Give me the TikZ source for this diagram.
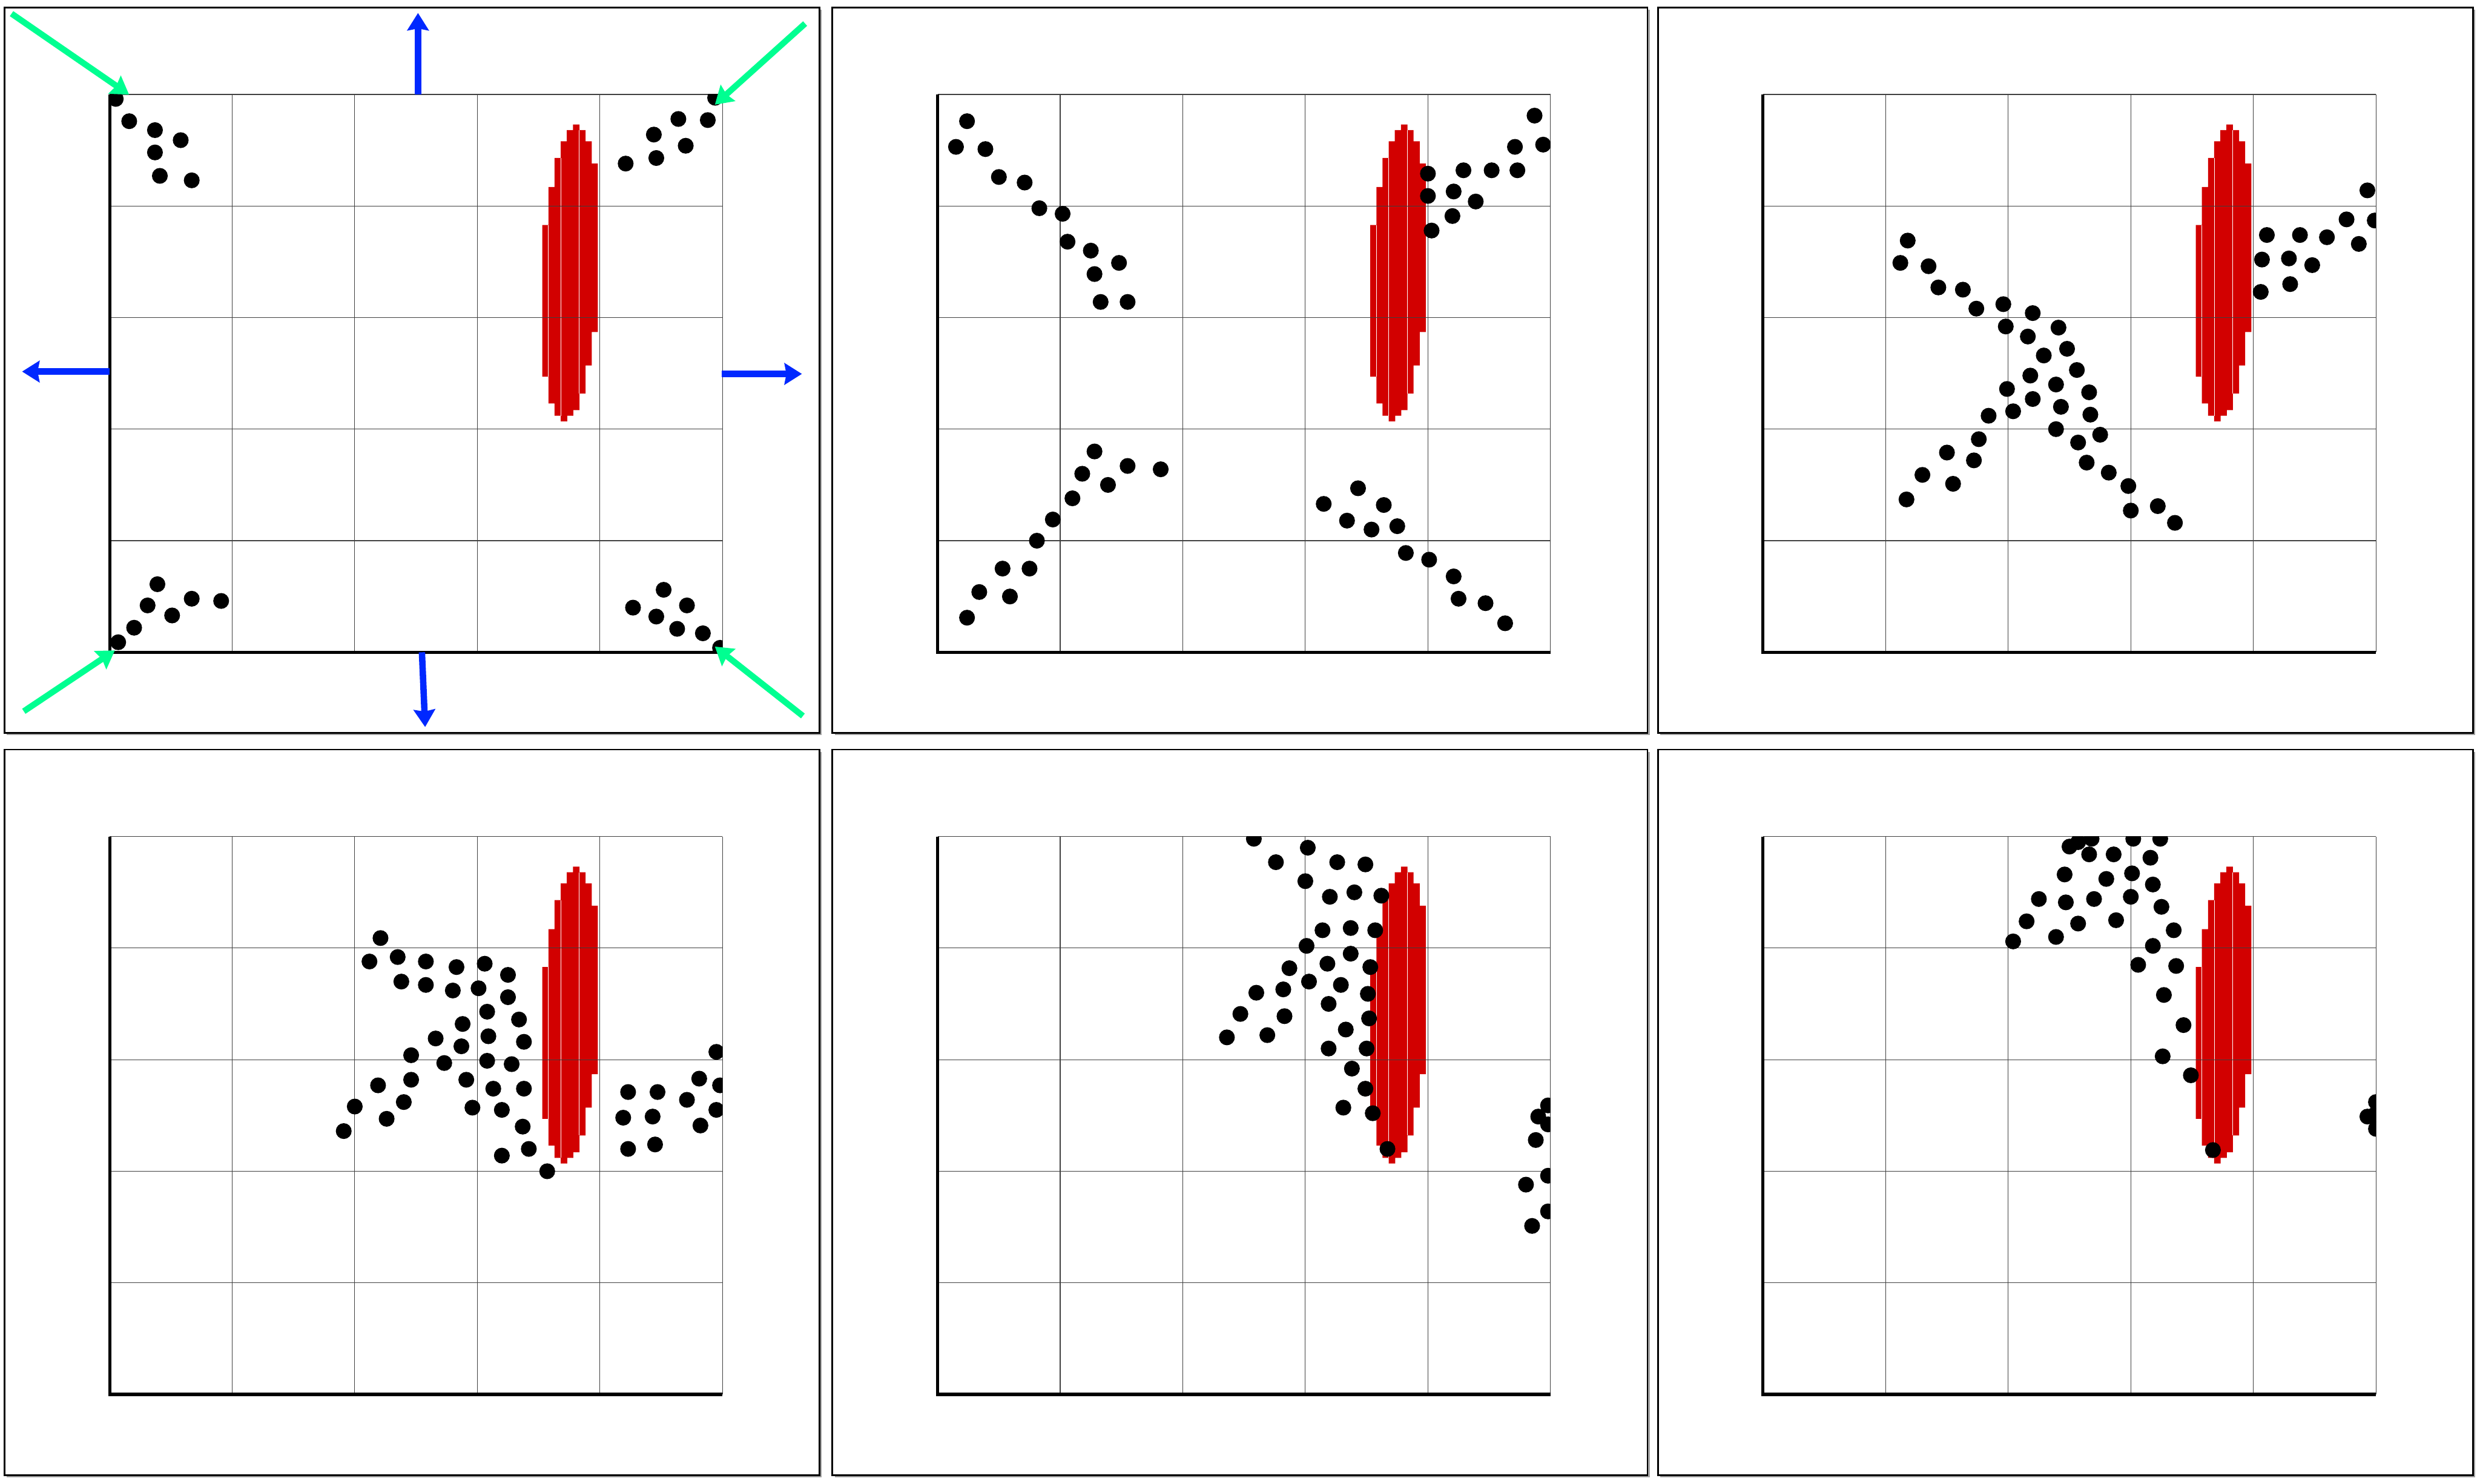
\documentclass[tikz,border=0pt]{standalone}
\usetikzlibrary{arrows.meta,shadows}

\definecolor{blobred}{RGB}{210,0,0}
\definecolor{pushblue}{RGB}{0,40,255}
\definecolor{pullgreen}{RGB}{0,255,145}

\tikzset{
  panelframe/.style={draw=black, line width=0.3pt, fill=white,
    drop shadow={shadow xshift=0.14mm, shadow yshift=-0.14mm, fill=black!60, opacity=0.6}},
  gridline/.style={draw=black!75, line width=0.12pt},
  axisline/.style={draw=black, line width=0.55pt},
  particle/.style={fill=black},
  pusharrow/.style={draw=pushblue, line width=1.15pt,
    -{Stealth[length=1.1mm, width=1.35mm, inset=0.12mm]}},
  pullarrow/.style={draw=pullgreen, line width=1.1pt,
    -{Stealth[length=1.1mm, width=1.35mm, inset=0.12mm]}}
}

% frame, red blob, grid and axes of one panel
\newcommand{\panelbase}{%
  \draw[panelframe] (-0.858,-0.723) rectangle (5.791,5.78);
  \fill[blobred] \foreach \x/\lo/\hi in {3.53/2.47/3.83, 3.58/2.23/4.17,
      3.63/2.12/4.43, 3.68/2.07/4.58, 3.73/2.12/4.68, 3.78/2.17/4.73,
      3.83/2.32/4.68, 3.88/2.57/4.58, 3.93/2.87/4.38}
    {(\x,\lo) rectangle (\x+0.053,\hi)};
  \draw[white, line width=0.09pt] (3.58,2.47) -- (3.58,3.83)
    (3.68,2.12) -- (3.68,4.43) (3.83,2.32) -- (3.83,4.68);
  \foreach \k in {1,...,5} {
    \draw[gridline] (\k,0) -- (\k,5);
    \draw[gridline] (0,\k) -- (5,\k);
  }
  \draw[axisline] (0,5) -- (0,0) -- (5,0);
}

\begin{document}
\begin{tikzpicture}
\useasboundingbox (0,0) rectangle (15.68,-9.38);

% panel 1
\begin{scope}[shift={(0.693,-4.124)}, x=0.775cm, y=0.7054cm]
  \panelbase
  \begin{scope}
    \clip (0,0) rectangle (5,5);
    \foreach \x/\y in {0.05/4.96, 0.16/4.76, 0.37/4.68, 0.58/4.59, 0.37/4.48,
        0.41/4.27, 0.67/4.23,
        4.21/4.38, 4.44/4.64, 4.64/4.78, 4.88/4.77, 4.70/4.54, 4.46/4.43, 4.94/4.97,
        0.07/0.09, 0.20/0.22, 0.31/0.42, 0.39/0.61, 0.51/0.33, 0.67/0.48, 0.91/0.46,
        4.27/0.40, 4.52/0.56, 4.71/0.42, 4.46/0.32, 4.63/0.21, 4.84/0.17, 4.98/0.04}
      \fill[particle] (\x,\y) circle[radius=0.5mm];
  \end{scope}
  \coordinate (top) at (2.516,5.0);
  \coordinate (topout) at (2.516,5.73);
  \coordinate (bot) at (2.548,0.0);
  \coordinate (botout) at (2.574,-0.67);
  \coordinate (left) at (0.0,2.516);
  \coordinate (leftout) at (-0.714,2.516);
  \coordinate (right) at (4.994,2.495);
  \coordinate (rightout) at (5.648,2.495);
  \draw[pusharrow] (top) -- (topout);
  \draw[pusharrow] (bot) -- (botout);
  \draw[pusharrow] (left) -- (leftout);
  \draw[pusharrow] (right) -- (rightout);
  \coordinate (tl) at (0.159,4.998);
  \coordinate (tlout) at (-0.80,5.724);
  \coordinate (tr) at (4.938,4.908);
  \coordinate (trout) at (5.674,5.635);
  \coordinate (bl) at (0.043,0.017);
  \coordinate (blout) at (-0.70,-0.529);
  \coordinate (br) at (4.938,0.051);
  \coordinate (brout) at (5.656,-0.571);
  \draw[pullarrow] (tlout) -- (tl);
  \draw[pullarrow] (trout) -- (tr);
  \draw[pullarrow] (blout) -- (bl);
  \draw[pullarrow] (brout) -- (br);
\end{scope}

% panel 2
\begin{scope}[shift={(5.928,-4.124)}, x=0.775cm, y=0.7054cm]
  \panelbase
  \begin{scope}
    \clip (0,0) rectangle (5,5);
    \foreach \x/\y in {0.24/4.76, 0.15/4.53, 0.39/4.51, 0.50/4.26, 0.71/4.21,
        0.83/3.98, 1.02/3.93, 1.06/3.68, 1.25/3.60, 1.48/3.49, 1.28/3.39,
        1.33/3.14, 1.55/3.14,
        4.00/4.29, 4.00/4.09, 4.03/3.78, 4.20/3.91, 4.21/4.13, 4.29/4.32,
        4.39/4.04, 4.52/4.32, 4.73/4.32, 4.71/4.53, 4.87/4.81, 4.94/4.55,
        0.24/0.31, 0.34/0.54, 0.53/0.75, 0.59/0.50, 0.75/0.75, 0.81/1.00,
        0.94/1.19, 1.10/1.38, 1.18/1.60, 1.28/1.80, 1.39/1.50, 1.55/1.67, 1.82/1.64,
        3.15/1.33, 3.34/1.18, 3.43/1.47, 3.54/1.10, 3.64/1.32, 3.75/1.13,
        3.82/0.89, 4.01/0.83, 4.21/0.68, 4.25/0.48, 4.47/0.44, 4.63/0.26}
      \fill[particle] (\x,\y) circle[radius=0.5mm];
  \end{scope}
\end{scope}

% panel 3
\begin{scope}[shift={(11.147,-4.124)}, x=0.775cm, y=0.7054cm]
  \panelbase
  \begin{scope}
    \clip (0,0) rectangle (5,5);
    \foreach \x/\y in {1.18/3.69, 1.12/3.49, 1.35/3.46, 1.43/3.27, 1.63/3.25,
        1.74/3.08, 1.96/3.12, 2.20/3.04, 1.98/2.92, 2.16/2.83, 2.41/2.91,
        2.29/2.66, 2.48/2.72, 2.56/2.53, 2.66/2.33, 2.67/2.13, 2.75/1.95,
        2.57/1.88, 2.64/1.70, 2.82/1.61, 2.98/1.49, 3.00/1.27, 3.22/1.31, 3.36/1.16,
        1.17/1.37, 1.30/1.59, 1.50/1.79, 1.55/1.51, 1.72/1.72, 1.76/1.91,
        1.84/2.12, 2.04/2.16, 1.99/2.36, 2.20/2.27, 2.18/2.48, 2.39/2.40,
        2.43/2.20, 2.39/2.00,
        4.06/3.23, 4.30/3.30, 4.07/3.52, 4.29/3.53, 4.48/3.47, 4.11/3.74,
        4.38/3.74, 4.60/3.72, 4.76/3.88, 4.86/3.66, 4.93/4.14, 4.99/3.87}
      \fill[particle] (\x,\y) circle[radius=0.5mm];
  \end{scope}
\end{scope}

% panel 4
\begin{scope}[shift={(0.693,-8.816)}, x=0.775cm, y=0.7054cm]
  \panelbase
  \begin{scope}
    \clip (0,0) rectangle (5,5);
    \foreach \x/\y in {2.21/4.09, 2.12/3.88, 2.35/3.92, 2.58/3.88, 2.83/3.83,
        3.06/3.86, 3.25/3.76, 2.38/3.70, 2.58/3.67, 2.80/3.62, 3.01/3.64,
        3.25/3.56, 3.08/3.43, 3.34/3.36, 2.88/3.32, 2.66/3.19, 2.87/3.12,
        3.09/3.21, 3.38/3.16, 2.46/3.04, 2.73/2.97, 3.08/2.99, 3.28/2.96,
        2.19/2.77, 2.46/2.82, 2.91/2.82, 3.13/2.74, 3.38/2.74, 2.00/2.58,
        2.40/2.62, 2.26/2.47, 2.96/2.57, 3.20/2.55, 1.91/2.36, 3.37/2.40,
        3.20/2.14, 3.42/2.20, 3.57/2.00,
        4.23/2.71, 4.47/2.71, 4.19/2.48, 4.43/2.49, 4.23/2.20, 4.45/2.24,
        4.71/2.64, 4.81/2.83, 4.82/2.41, 4.95/3.07, 4.98/2.77, 4.95/2.55}
      \fill[particle] (\x,\y) circle[radius=0.5mm];
  \end{scope}
\end{scope}

% panel 5
\begin{scope}[shift={(5.928,-8.816)}, x=0.775cm, y=0.7054cm]
  \panelbase
  \begin{scope}
    \clip (0,0) rectangle (5,5);
    \foreach \x/\y in {2.58/4.98, 3.02/4.90, 2.76/4.77, 3.26/4.77, 3.49/4.75,
        3.00/4.60, 3.20/4.46, 3.40/4.50, 3.62/4.47, 3.14/4.16, 3.37/4.18,
        3.57/4.16, 3.01/4.02, 3.37/3.95, 2.87/3.82, 3.18/3.86, 3.53/3.83,
        2.60/3.60, 2.82/3.63, 3.03/3.70, 3.29/3.67, 3.51/3.59, 2.47/3.41,
        2.83/3.39, 3.19/3.50, 3.52/3.37, 2.36/3.20, 2.69/3.22, 3.33/3.27,
        3.19/3.10, 3.50/3.10, 3.38/2.92, 3.49/2.74, 3.31/2.57, 3.55/2.52, 3.67/2.20,
        4.98/2.59, 4.90/2.49, 4.98/2.42, 4.88/2.28, 4.98/1.96, 4.80/1.88,
        4.98/1.64, 4.85/1.51}
      \fill[particle] (\x,\y) circle[radius=0.5mm];
  \end{scope}
\end{scope}

% panel 6
\begin{scope}[shift={(11.147,-8.816)}, x=0.775cm, y=0.7054cm]
  \panelbase
  \begin{scope}
    \clip (0,0) rectangle (5,5);
    \foreach \x/\y in {2.50/4.91, 2.57/4.95, 2.68/4.98, 3.02/4.98, 3.24/4.98,
        2.66/4.84, 2.86/4.84, 3.16/4.81, 2.46/4.66, 2.80/4.62, 3.01/4.67,
        3.18/4.57, 2.25/4.44, 2.47/4.41, 2.70/4.44, 3.00/4.46, 3.25/4.37,
        2.15/4.24, 2.57/4.22, 2.88/4.25, 3.35/4.16, 2.04/4.06, 2.39/4.10,
        3.18/4.02, 3.06/3.85, 3.37/3.84, 3.27/3.58, 3.43/3.31, 3.26/3.03,
        3.49/2.86, 3.67/2.19,
        4.93/2.49, 5.00/2.62, 5.00/2.38, 4.98/2.50}
      \fill[particle] (\x,\y) circle[radius=0.5mm];
  \end{scope}
\end{scope}

\end{tikzpicture}
\end{document}
